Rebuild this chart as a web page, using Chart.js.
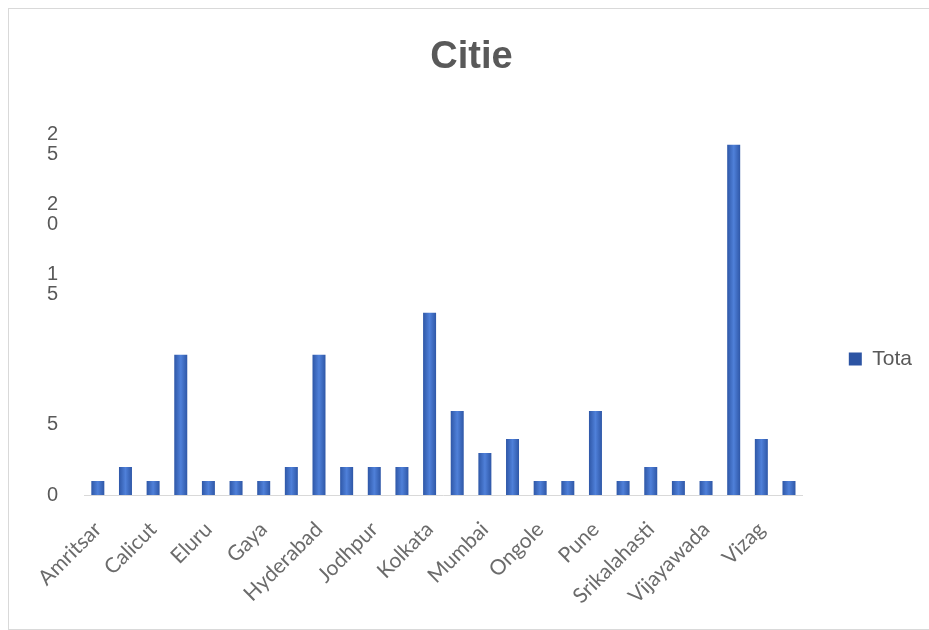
<!DOCTYPE html>
<html>
<head>
<meta charset="utf-8">
<title>Cities</title>
<script src="https://cdn.jsdelivr.net/npm/chart.js@4.4.0/dist/chart.umd.min.js"></script>
<style>
  body { margin: 0; background: #fff; }
  #frame {
    position: absolute; left: 8px; top: 8px;
    width: 940px; height: 620px;
    border: 1px solid #d9d9d9;
  }
  #citiesChart { position: absolute; left: 0; top: 0; }
</style>
</head>
<body>
<div id="frame"></div>
<canvas id="citiesChart" width="929" height="630"></canvas>
<script>
// Cities and the total for each one
const cities = [
  'Amritsar', 'Bangalore', 'Calicut', 'Chennai', 'Eluru', 'Gandhinagar',
  'Gaya', 'Guntur', 'Hyderabad', 'Jaipur', 'Jodhpur', 'Kakinada',
  'Kolkata', 'Lucknow', 'Mumbai', 'Nellore', 'Ongole', 'Patna',
  'Pune', 'Rajahmundry', 'Srikalahasti', 'Tirupati', 'Vijayawada',
  'Visakhapatnam', 'Vizag', 'Warangal'
];
const totals = [1, 2, 1, 10, 1, 1, 1, 2, 10, 2, 2, 2, 13, 6, 3, 4, 1, 1, 6, 1, 2, 1, 1, 25, 4, 1];

// y axis ticks (10 has no label)
const yTicks = [0, 5, 15, 20, 25];

const seriesName = 'Tota';
const barBlue = '#3a63bf';
const textGrey = '#595959';

const ctx = document.getElementById('citiesChart').getContext('2d');

// bars get a darker edge and a lighter middle
function barFill(context) {
  const chart = context.chart;
  if (context.type !== 'data' || !chart.chartArea) return barBlue;
  const x = chart.scales.x.getPixelForValue(context.dataIndex);
  const g = chart.ctx.createLinearGradient(x - 7, 0, x + 7, 0);
  g.addColorStop(0, '#2c54a3');
  g.addColorStop(0.5, '#4f80d9');
  g.addColorStop(1, '#2c54a3');
  return g;
}

// legend sits level with the lower half of the plot
const legendNudge = {
  id: 'legendNudge',
  afterLayout(chart) {
    chart.legend.top += 40;
    chart.legend.bottom += 40;
  }
};

const data = {
  labels: cities,
  datasets: [{
    label: seriesName,
    data: totals,
    backgroundColor: barFill,
    barPercentage: 0.47,
    categoryPercentage: 1
  }]
};

const config = {
  type: 'bar',
  data: data,
  plugins: [legendNudge],
  options: {
    responsive: false,
    animation: false,
    layout: { padding: { left: 21, right: 7, top: 8, bottom: 0 } },
    scales: {
      x: {
        grid: { display: false },
        border: { display: true, color: '#d9d9d9', width: 1 },
        ticks: {
          autoSkip: false,
          minRotation: 45,
          maxRotation: 45,
          padding: 14,
          color: '#6b6b6b',
          font: { family: 'Lato', size: 21 },
          callback: (value, index) => (index % 2 === 0 ? cities[index] : '')
        },
        afterFit: (scale) => { scale.height = 135; }
      },
      y: {
        min: 0,
        max: 27,
        grid: { display: false, drawTicks: false },
        border: { display: false },
        afterBuildTicks: (scale) => { scale.ticks = yTicks.map(v => ({ value: v })); },
        afterFit: (scale) => { scale.width = 63; },
        ticks: {
          padding: 26,
          color: textGrey,
          font: { family: 'Liberation Sans', size: 20, lineHeight: 1.0 },
          callback: (value) => String(value).split('')
        }
      }
    },
    plugins: {
      title: {
        display: true,
        text: 'Citie',
        color: textGrey,
        font: { family: 'Liberation Sans', size: 38, weight: 'bold' },
        padding: { top: 27, bottom: 36 }
      },
      legend: {
        position: 'right',
        labels: {
          boxWidth: 13,
          boxHeight: 13,
          padding: 46,
          color: textGrey,
          font: { family: 'Liberation Sans', size: 21 }
        }
      },
      tooltip: { enabled: false }
    }
  }
};

new Chart(ctx, config);
</script>
</body>
</html>
